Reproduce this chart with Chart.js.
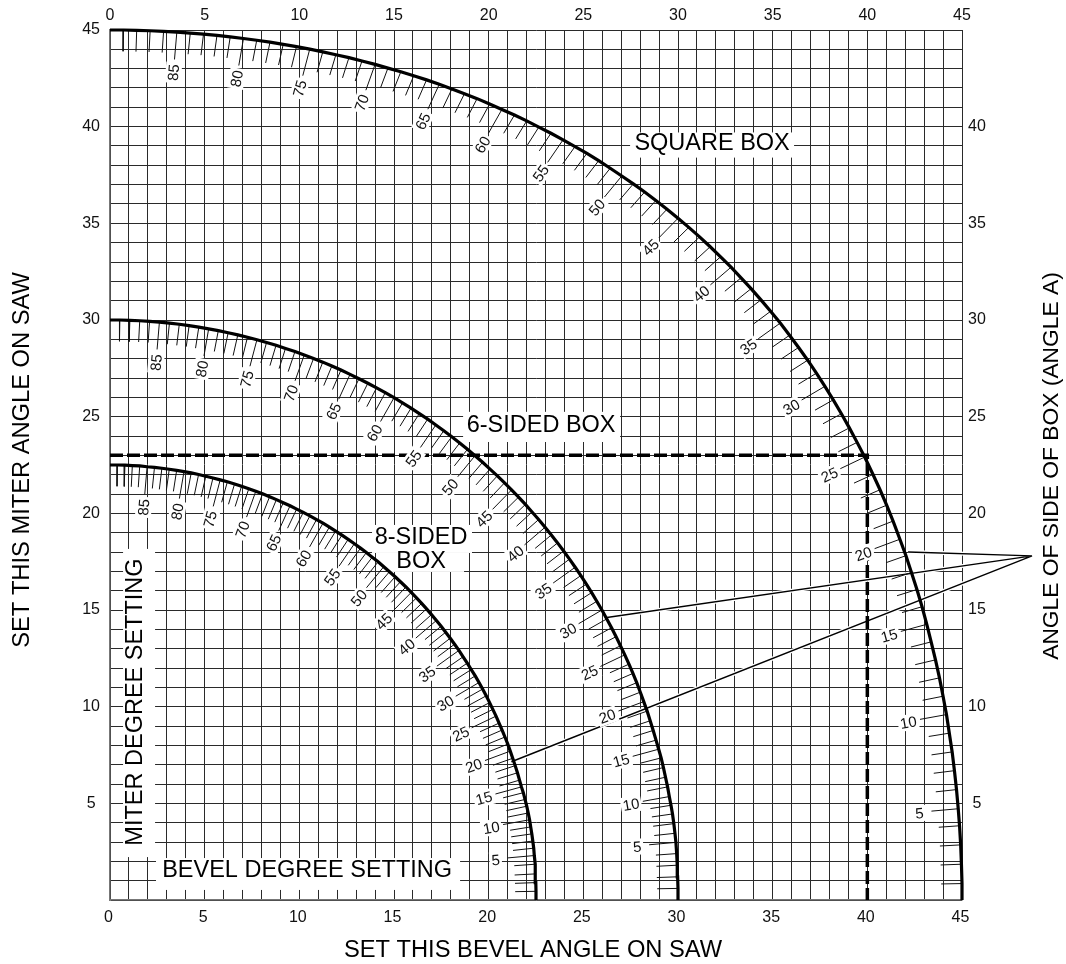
<!DOCTYPE html>
<html>
<head>
<meta charset="utf-8">
<title>Compound miter chart</title>
<script src="https://cdn.jsdelivr.net/npm/chart.js@4/dist/chart.umd.js"></script>
<style>
  html, body { margin: 0; padding: 0; background: #fff; }
  canvas { display: block; }
</style>
</head>
<body>
<canvas id="chart" width="1066" height="964"></canvas>
<script>
// every array below is indexed by the angle of side A, 0..90 degrees
const squareX = [
  45, 45.00, 44.97, 44.93, 44.87, 44.80, 44.71, 44.60, 44.48, 44.33,
  44.18, 44.00, 43.81, 43.60, 43.37, 43.14, 42.89, 42.62, 42.33, 42.04,
  41.72, 41.36, 41.02, 40.67, 40.30, 39.86, 39.46, 39.05, 38.63, 38.20,
  37.76, 37.31, 36.85, 36.37, 35.89, 35.40, 34.89, 34.38, 33.86, 33.33,
  32.80, 32.25, 31.70, 31.14, 30.57, 30, 29.42, 28.83, 28.24, 27.64,
  27.03, 26.42, 25.81, 25.19, 24.56, 23.93, 23.29, 22.65, 22.01, 21.36,
  20.70, 20.05, 19.39, 18.72, 18.06, 17.39, 16.72, 16.04, 15.36, 14.68,
  14.00, 13.31, 12.62, 11.93, 11.24, 10.55, 9.85, 9.15, 8.45, 7.75,
  7.05, 6.35, 5.65, 4.94, 4.24, 3.53, 2.83, 2.12, 1.41, 0.71,
  0
];
const squareY = [
  0, 0.85, 1.85, 2.85, 3.84, 4.72, 5.71, 6.69, 7.66, 8.63,
  9.59, 10.54, 11.49, 12.42, 13.35, 14.26, 15.17, 16.06, 16.94, 17.81,
  18.66, 19.60, 20.42, 21.22, 22.01, 22.91, 23.67, 24.42, 25.15, 25.87,
  26.57, 27.25, 27.92, 28.58, 29.21, 29.84, 30.45, 31.04, 31.62, 32.18,
  32.73, 33.27, 33.79, 34.30, 34.79, 35.26, 35.73, 36.18, 36.62, 37.04,
  37.45, 37.85, 38.24, 38.62, 38.97, 39.32, 39.66, 39.98, 40.30, 40.60,
  40.89, 41.17, 41.45, 41.70, 41.95, 42.19, 42.42, 42.63, 42.84, 43.03,
  43.22, 43.40, 43.57, 43.72, 43.87, 44.01, 44.14, 44.26, 44.37, 44.47,
  44.56, 44.64, 44.72, 44.79, 44.84, 44.89, 44.93, 44.96, 44.98, 45.00,
  45
];
const sixSidedX = [
  30, 30.00, 29.98, 29.96, 29.93, 29.89, 29.84, 29.78, 29.71, 29.63,
  29.54, 29.45, 29.34, 29.23, 29.11, 28.98, 28.84, 28.69, 28.53, 28.37,
  28.19, 28.01, 27.82, 27.62, 27.41, 27.19, 26.96, 26.73, 26.49, 26.24,
  25.98, 25.71, 25.44, 25.16, 24.87, 24.57, 24.27, 23.96, 23.64, 23.31,
  22.98, 22.64, 22.29, 21.94, 21.58, 21.21, 20.84, 20.46, 20.07, 19.68,
  19.28, 18.88, 18.47, 18.05, 17.63, 17.21, 16.78, 16.34, 15.90, 15.45,
  15, 14.54, 14.08, 13.62, 13.15, 12.68, 12.20, 11.72, 11.24, 10.75,
  10.26, 9.77, 9.27, 8.77, 8.27, 7.76, 7.26, 6.75, 6.24, 5.72,
  5.21, 4.69, 4.18, 3.66, 3.14, 2.61, 2.09, 1.57, 1.05, 0.52,
  0
];
const sixSidedY = [
  0, 0.60, 1.20, 1.80, 2.40, 2.98, 3.45, 3.95, 4.45, 4.90,
  5.35, 5.85, 6.35, 6.85, 7.35, 7.80, 8.27, 8.77, 9.27, 9.77,
  10.26, 10.75, 11.24, 11.72, 12.20, 12.68, 13.15, 13.62, 14.08, 14.54,
  15, 15.45, 15.90, 16.34, 16.78, 17.21, 17.63, 18.05, 18.47, 18.88,
  19.28, 19.68, 20.07, 20.46, 20.84, 21.21, 21.58, 21.94, 22.29, 22.64,
  22.98, 23.31, 23.64, 23.96, 24.27, 24.57, 24.87, 25.16, 25.44, 25.71,
  25.98, 26.24, 26.49, 26.73, 26.96, 27.19, 27.41, 27.62, 27.82, 28.01,
  28.19, 28.37, 28.53, 28.69, 28.84, 28.98, 29.11, 29.23, 29.34, 29.45,
  29.54, 29.63, 29.71, 29.78, 29.84, 29.89, 29.93, 29.96, 29.98, 30.00,
  30
];
const eightSidedX = [
  22.5, 22.50, 22.49, 22.47, 22.45, 22.41, 22.38, 22.33, 22.28, 22.22,
  22.16, 22.09, 22.01, 21.92, 21.83, 21.73, 21.63, 21.52, 21.40, 21.27,
  21.14, 21.01, 20.86, 20.71, 20.55, 20.39, 20.22, 20.05, 19.87, 19.68,
  19.49, 19.29, 19.08, 18.87, 18.65, 18.43, 18.20, 17.97, 17.73, 17.49,
  17.24, 16.98, 16.72, 16.46, 16.19, 15.91, 15.63, 15.34, 15.06, 14.76,
  14.46, 14.16, 13.85, 13.54, 13.23, 12.91, 12.58, 12.25, 11.92, 11.59,
  11.25, 10.91, 10.56, 10.21, 9.86, 9.51, 9.15, 8.79, 8.43, 8.06,
  7.70, 7.33, 6.95, 6.58, 6.20, 5.82, 5.44, 5.06, 4.68, 4.29,
  3.91, 3.52, 3.13, 2.74, 2.35, 1.96, 1.57, 1.18, 0.79, 0.39,
  0
];
const eightSidedY = [
  0, 0.45, 0.90, 1.35, 1.85, 2.30, 2.68, 3.05, 3.42, 3.78,
  4.15, 4.50, 4.85, 5.20, 5.55, 5.85, 6.20, 6.58, 6.95, 7.33,
  7.70, 8.06, 8.43, 8.79, 9.15, 9.51, 9.86, 10.21, 10.56, 10.91,
  11.25, 11.59, 11.92, 12.25, 12.58, 12.91, 13.23, 13.54, 13.85, 14.16,
  14.46, 14.76, 15.06, 15.34, 15.63, 15.91, 16.19, 16.46, 16.72, 16.98,
  17.24, 17.49, 17.73, 17.97, 18.20, 18.43, 18.65, 18.87, 19.08, 19.29,
  19.49, 19.68, 19.87, 20.05, 20.22, 20.39, 20.55, 20.71, 20.86, 21.01,
  21.14, 21.27, 21.40, 21.52, 21.63, 21.73, 21.83, 21.92, 22.01, 22.09,
  22.16, 22.22, 22.28, 22.33, 22.38, 22.41, 22.45, 22.47, 22.49, 22.50,
  22.5
];

const degreeLabels = [5, 10, 15, 20, 25, 30, 35, 40, 45, 50, 55, 60, 65, 70, 75, 80, 85];
const bottomTickLabels = [0, 5, 10, 15, 20, 25, 30, 35, 40, 45];
const topTickLabels = [0, 5, 10, 15, 20, 25, 30, 35, 40, 45];
const leftTickLabels = [5, 10, 15, 20, 25, 30, 35, 40, 45];
const rightTickLabels = [5, 10, 15, 20, 25, 30, 35, 40];

// worked example, bevel 40 / miter 23
const exampleX = [0, 40, 40];
const exampleY = [23, 23, 0];

// leader lines from the "angle of side" note to each curve
const leaderStartX = [42.15, 26.15, 21.2];
const leaderStartY = [18.0, 14.6, 7.15];
const leaderEndX = 48.7;
const leaderEndY = 17.8;

const FONT = '"Liberation Sans", Arial, sans-serif';
const MINOR_LEN = 1.1;
const MAJOR_LEN = 1.42;
const LABEL_DIST = 2.05;
const rad = (a) => (a * Math.PI) / 180;

const curve = (xs, ys) => xs.map((x, i) => ({ x, y: ys[i] }));

// hatch marks: one per degree, the fifth ones longer
function hatch(xs, ys) {
  const pts = [];
  for (let a = 1; a < 90; a++) {
    const len = a % 5 === 0 ? MAJOR_LEN : MINOR_LEN;
    pts.push({ x: xs[a], y: ys[a] });
    pts.push({ x: xs[a] - len * Math.cos(rad(a)), y: ys[a] - len * Math.sin(rad(a)) });
    pts.push({ x: null, y: null });
  }
  return pts;
}

function leaders() {
  const pts = [];
  leaderStartX.forEach((x, i) => {
    pts.push({ x, y: leaderStartY[i] });
    pts.push({ x: leaderEndX, y: leaderEndY });
    pts.push({ x: null, y: null });
  });
  return pts;
}

const lineSet = (label, data, color, width, order, extra) => ({
  label, data, order,
  showLine: true,
  borderColor: color,
  backgroundColor: color,
  borderWidth: width,
  pointRadius: 0,
  tension: 0,
  spanGaps: false,
  clip: false,
  ...extra,
});

// white patches behind the big captions, in axis units: x0, y0, x1, y1
const captionPatches = [
  [27.47, 39.7, 36.13, 38.4],
  [18.65, 25.25, 26.94, 23.69],
  [13.84, 19.4, 19.12, 17.95],
  [14.69, 17.95, 18.7, 16.97],
  [2.43, 2.17, 18.49, 0.52],
  [0.69, 18.16, 2.38, 2.22],
];
const captions = [
  { text: 'SQUARE BOX', x: 31.8, y: 39.16 },
  { text: '6-SIDED BOX', x: 22.77, y: 24.57 },
  { text: '8-SIDED', x: 16.43, y: 18.78 },
  { text: 'BOX', x: 16.43, y: 17.54 },
  { text: 'BEVEL DEGREE SETTING', x: 10.41, y: 1.6 },
  { text: 'MITER DEGREE SETTING', x: 1.29, y: 10.24, rotate: -90 },
];

const captionPlugin = {
  id: 'captions',
  beforeDatasetsDraw(chart) {
    const { ctx, scales: { x, y } } = chart;
    ctx.save();
    ctx.fillStyle = '#fff';
    captionPatches.forEach((p) => {
      const left = x.getPixelForValue(p[0]);
      const top = y.getPixelForValue(p[1]);
      ctx.fillRect(left, top, x.getPixelForValue(p[2]) - left, y.getPixelForValue(p[3]) - top);
    });
    ctx.fillStyle = '#000';
    ctx.font = '23.5px ' + FONT;
    ctx.textAlign = 'center';
    ctx.textBaseline = 'middle';
    captions.forEach((c) => {
      ctx.save();
      ctx.translate(x.getPixelForValue(c.x), y.getPixelForValue(c.y));
      if (c.rotate) ctx.rotate(rad(c.rotate));
      ctx.fillText(c.text, 0, 1);
      ctx.restore();
    });
    ctx.restore();
  },
  afterDatasetsDraw(chart) {
    const { ctx, chartArea, scales: { x, y } } = chart;
    ctx.save();
    ctx.font = '15px ' + FONT;
    ctx.textAlign = 'center';
    ctx.textBaseline = 'middle';
    [[squareX, squareY], [sixSidedX, sixSidedY], [eightSidedX, eightSidedY]].forEach(([xs, ys]) => {
      degreeLabels.forEach((a) => {
        const px = x.getPixelForValue(xs[a] - LABEL_DIST * Math.cos(rad(a)));
        const py = y.getPixelForValue(ys[a] - LABEL_DIST * Math.sin(rad(a)));
        const w = ctx.measureText(String(a)).width;
        ctx.save();
        ctx.translate(px, py + 1);
        ctx.rotate(rad(-a));
        ctx.fillStyle = '#fff';
        ctx.fillRect(-w / 2 - 2, -8, w + 4, 16);
        ctx.fillStyle = '#111';
        ctx.fillText(String(a), 0, 1);
        ctx.restore();
      });
    });
    // axis titles, placed here because the right one reads upward
    const midY = (chartArea.top + chartArea.bottom) / 2;
    const title = (text, size, tx, ty, turn) => {
      ctx.save();
      ctx.fillStyle = '#000';
      ctx.font = size + 'px ' + FONT;
      ctx.translate(tx, ty);
      if (turn) ctx.rotate(rad(-90));
      ctx.fillText(text, 0, 0);
      ctx.restore();
    };
    title('SET THIS BEVEL ANGLE ON SAW', 23.7, chartArea.left + 423, chartArea.bottom + 50, false);
    title('SET THIS MITER ANGLE ON SAW', 23.7, chartArea.left - 88, midY - 5, true);
    title('ANGLE OF SIDE OF BOX (ANGLE A)', 22.8, chartArea.right + 90, midY + 1, true);
    ctx.restore();
  },
};

const tickFont = { family: FONT, size: 16 };
const sideTicks = (list, padding, extra) => ({
  stepSize: 1,
  autoSkip: false,
  maxRotation: 0,
  minRotation: 0,
  color: '#111',
  font: tickFont,
  padding,
  callback: (v) => (list.includes(v) ? String(v) : ''),
  ...extra,
});

new Chart(document.getElementById('chart').getContext('2d'), {
  type: 'scatter',
  data: {
    datasets: [
      lineSet('Square box', curve(squareX, squareY), '#000', 3.2, 1),
      lineSet('6-sided box', curve(sixSidedX, sixSidedY), '#000', 3.2, 1),
      lineSet('8-sided box', curve(eightSidedX, eightSidedY), '#000', 3.2, 1),
      lineSet('Square box degrees', hatch(squareX, squareY), '#111', 1, 2),
      lineSet('6-sided box degrees', hatch(sixSidedX, sixSidedY), '#111', 1, 2),
      lineSet('8-sided box degrees', hatch(eightSidedX, eightSidedY), '#111', 1, 2),
      lineSet('Example', curve(exampleX, exampleY), '#000', 3.5, 3, { borderDash: [13, 4] }),
      lineSet('Leaders', leaders(), '#000', 1.4, 4),
      lineSet('Leaders halo', leaders(), '#fff', 4, 5),
    ],
  },
  options: {
    responsive: false,
    animation: false,
    layout: { padding: 0 },
    plugins: { legend: { display: false }, tooltip: { enabled: false } },
    scales: {
      x: {
        type: 'linear', position: 'bottom', min: 0, max: 45,
        grid: { color: '#2a2a2a', lineWidth: 1, drawTicks: false },
        border: { color: '#777', width: 1.5 },
        ticks: sideTicks(bottomTickLabels, 8, { labelOffset: -1.5 }),
        afterFit: (s) => { s.height = 64; },
      },
      x2: {
        type: 'linear', position: 'top', min: 0, max: 45,
        grid: { display: false, drawTicks: false },
        border: { display: false },
        ticks: sideTicks(topTickLabels, 5),
        afterFit: (s) => { s.height = 30; },
      },
      y: {
        type: 'linear', position: 'left', min: 0, max: 45,
        grid: { color: '#2a2a2a', lineWidth: 1, drawTicks: false },
        border: { color: '#777', width: 1.5 },
        ticks: sideTicks(leftTickLabels, 10, { crossAlign: 'center' }),
        afterFit: (s) => { s.width = 110; },
      },
      y2: {
        type: 'linear', position: 'right', min: 0, max: 45,
        grid: { display: false, drawTicks: false },
        border: { display: false },
        ticks: sideTicks(rightTickLabels, 6, { crossAlign: 'center' }),
        afterFit: (s) => { s.width = 104; },
      },
    },
  },
  plugins: [captionPlugin],
});
</script>
</body>
</html>
